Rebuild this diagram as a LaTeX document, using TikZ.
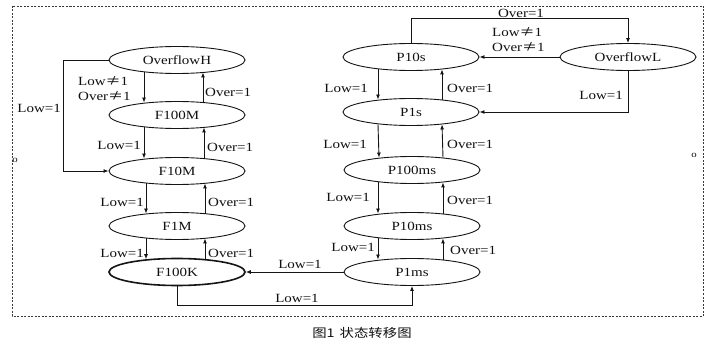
\documentclass[tikz,border=0pt]{standalone}
\usepackage{fontspec}
\setmainfont{Liberation Serif}[FakeStretch=1.2]
\newfontfamily\cjk{Noto Sans CJK SC}[FakeStretch=1.2]
\usepackage{xcolor}
\usepackage{tikz}
\usetikzlibrary{arrows.meta,shapes.geometric}
\definecolor{LineColor}{HTML}{141414}
\definecolor{TextColor}{HTML}{111111}
\definecolor{FrameColor}{HTML}{3A3A3A}
\newcommand{\neqsign}{{\cjk ≠}}
\tikzset{
	state/.style={ellipse, draw=LineColor, line width=0.9pt, minimum width=136pt, minimum height=27pt, inner sep=0pt, text=TextColor, font=\fontsize{12.5}{15}\selectfont},
	flow/.style={-{Latex[length=5pt,width=4pt]}, line width=0.9pt, draw=LineColor},
	lbl/.style={inner sep=0pt, align=left, text=TextColor, font=\fontsize{12.5}{15}\selectfont},
}

\begin{document}
\begin{tikzpicture}[x=1pt,y=-1pt]
	\useasboundingbox (0,0) rectangle (721,342);
	\fill[white] (0,0) rectangle (721,342);
	\draw[draw=FrameColor, line width=0.6pt, dash pattern=on 2pt off 1.5pt] (12,6) rectangle (703,316);
	\node[text=TextColor, font=\fontsize{9}{10}\selectfont, inner sep=0pt] (markL) at (15,160) {o};
	\node[text=TextColor, font=\fontsize{9}{10}\selectfont, inner sep=0pt] (markR) at (694,155) {o};

	% left column
	\node[state] (OverflowH) at (177,60) {OverflowH};
	\node[state] (F100M) at (177,115) {F100M};
	\node[state] (F10M) at (177,171) {F10M};
	\node[state] (F1M) at (177,226) {F1M};
	\node[state, line width=1.6pt] (F100K) at (177,272) {F100K};

	% right column
	\node[state] (P10s) at (411,57) {P10s};
	\node[state] (OverflowL) at (628,57) {OverflowL};
	\node[state] (P1s) at (411,112) {P1s};
	\node[state] (P100ms) at (412,170) {P100ms};
	\node[state] (P10ms) at (412,226) {P10ms};
	\node[state] (P1ms) at (412,272) {P1ms};

	\foreach \upper/\lower/\dl/\dr in {OverflowH/F100M/-33/26,F100M/F10M/-33/27,F10M/F1M/-31/28,F1M/F100K/-31/28,P10s/P1s/-33/31,P1s/P100ms/-33/31,P100ms/P10ms/-34/31,P10ms/P1ms/-34/31} {
		\draw[flow] ([xshift=\dl pt,yshift=1.5pt]\upper.south) -- ([xshift=\dl pt,yshift=-1.5pt]\lower.north);
		\draw[flow] ([xshift=\dr pt,yshift=-1.5pt]\lower.north) -- ([xshift=\dr pt,yshift=1.5pt]\upper.south);
	}

	\draw[flow] (OverflowH.west) -- ++(-45,0) |- (F10M.west);
	\draw[flow] (P10s.north) -- (P10s.north |- 0,18) -| (OverflowL.north);
	\draw[flow] (OverflowL.west) -- (P10s.east);
	\draw[flow] (OverflowL.south) |- (P1s.east);
	\draw[flow] (P1ms.west) -- (F100K.east);
	\draw[flow] (F100K.south) -- (F100K.south |- 0,305) -| (P1ms.south);

	% labels left
	\node[lbl, anchor=west] (lblOHdown) at (78,89) {Low\neqsign1\\Over\neqsign1};
	\node[lbl, anchor=west] (lblOHup) at (205,92) {Over=1};
	\node[lbl, anchor=east] (lblLoop) at (61,108) {Low=1};
	\node[lbl, anchor=east] (lblMdown) at (141,145) {Low=1};
	\node[lbl, anchor=west] (lblMup) at (207,147) {Over=1};
	\node[lbl, anchor=east] (lblTdown) at (144,202) {Low=1};
	\node[lbl, anchor=west] (lblTup) at (208,202) {Over=1};
	\node[lbl, anchor=east] (lblKdown) at (144,253) {Low=1};
	\node[lbl, anchor=west] (lblKup) at (208,253) {Over=1};

	% labels right
	\node[lbl] (lblTop) at (521,13) {Over=1};
	\node[lbl, anchor=west] (lblOLleft) at (492,40) {Low\neqsign1\\Over\neqsign1};
	\node[lbl, anchor=east] (lblOLdown) at (623,95) {Low=1};
	\node[lbl, anchor=east] (lblSdown) at (368,88) {Low=1};
	\node[lbl, anchor=west] (lblSup) at (447,88) {Over=1};
	\node[lbl, anchor=east] (lblSSdown) at (367,144) {Low=1};
	\node[lbl, anchor=west] (lblSSup) at (447,144) {Over=1};
	\node[lbl, anchor=east] (lblHdown) at (370,197) {Low=1};
	\node[lbl, anchor=west] (lblHup) at (447,200) {Over=1};
	\node[lbl, anchor=east] (lblPdown) at (375,247) {Low=1};
	\node[lbl, anchor=west] (lblPup) at (450,250) {Over=1};
	\node[lbl] (lblCross) at (300,264) {Low=1};
	\node[lbl] (lblBottom) at (297,298) {Low=1};

	\node[text=TextColor, font=\cjk\fontsize{12}{14}\selectfont] (caption) at (362,333) {图1\hspace{5pt}状态转移图};
\end{tikzpicture}
\end{document}
